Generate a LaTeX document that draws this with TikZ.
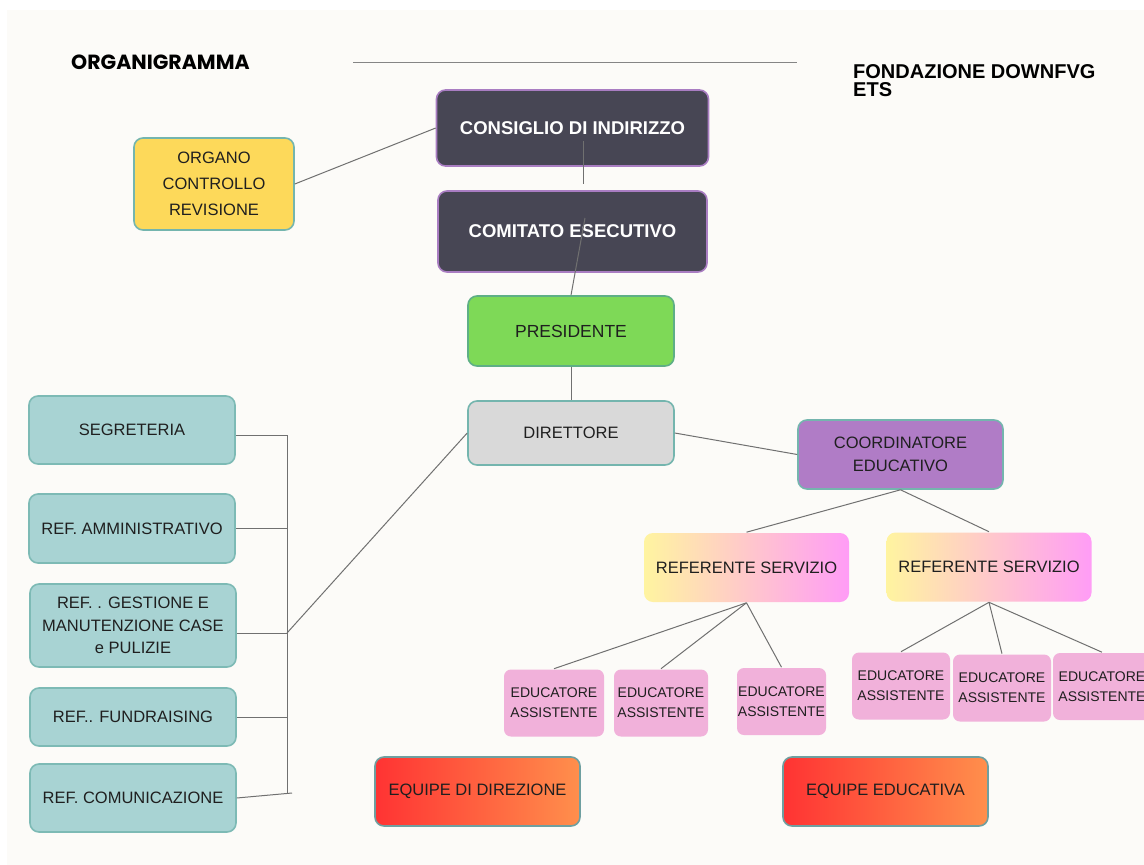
\documentclass[tikz,border=0pt]{standalone}
\usepackage{fontspec}
\setmainfont{Liberation Sans}
\newfontfamily\titlefont{Poppins}

\definecolor{paper}{HTML}{FCFBF8}
\definecolor{boardfill}{HTML}{474654}
\definecolor{boardline}{HTML}{A97DC2}
\definecolor{tealline}{HTML}{74B5AE}
\definecolor{organofill}{HTML}{FDD95A}
\definecolor{presfill}{HTML}{7ED957}
\definecolor{presline}{HTML}{5EAF86}
\definecolor{dirfill}{HTML}{D9D9D9}
\definecolor{coordfill}{HTML}{B07CC6}
\definecolor{refyellow}{HTML}{FFF4A0}
\definecolor{refpink}{HTML}{FFC3D6}
\definecolor{refmagenta}{HTML}{FF9CF6}
\definecolor{edufill}{HTML}{F1B1DA}
\definecolor{equipered}{HTML}{FF3333}
\definecolor{equipeorange}{HTML}{FF8F4C}
\definecolor{equipeline}{HTML}{6E9FA0}
\definecolor{stafffill}{HTML}{A8D3D3}
\definecolor{staffline}{HTML}{7DBAB5}
\definecolor{linkgray}{HTML}{707070}
\definecolor{labeltext}{HTML}{1F1F1F}

\begin{document}
\begin{tikzpicture}[x=1pt, y=-1pt,
chart node/.style={draw, rounded corners=9pt, line width=1.6pt, align=center, inner sep=0pt, text=labeltext, font=\fontsize{16.5}{23}\selectfont},
board node/.style={chart node, fill=boardfill, draw=boardline, text=white, font=\bfseries\fontsize{18.5}{22}\selectfont, minimum width=272pt},
staff node/.style={chart node, fill=stafffill, draw=staffline, minimum width=206pt},
ref node/.style={chart node, draw=none, left color=refyellow, middle color=refpink, right color=refmagenta, minimum width=205pt, minimum height=69pt},
edu node/.style={chart node, draw=none, fill=edufill, rounded corners=7pt, minimum height=67pt, font=\fontsize{14}{20}\selectfont},
equipe node/.style={chart node, draw=equipeline, left color=equipered, right color=equipeorange, minimum width=205pt, minimum height=69pt},
link/.style={draw=linkgray, line width=1pt}]

% page
\fill[white] (0,0) rectangle (1144,865);
\fill[paper] (7,10) rectangle (1144,865);
\useasboundingbox (0,0) rectangle (1144,865);

% header
\node[anchor=west, inner sep=0pt, font=\titlefont\bfseries\fontsize{20.5}{24}\selectfont] (title) at (71,62) {ORGANIGRAMMA};
\coordinate (ruleL) at (353,62);
\coordinate (ruleR) at (797,62);
\node[anchor=north west, inner sep=0pt, align=left, font=\bfseries\fontsize{20}{18.5}\selectfont] (fondazione) at (853,64) {FONDAZIONE DOWNFVG\\ETS};

% board
\node[board node, minimum height=76pt] (consiglio) at (572.5,128) {CONSIGLIO DI INDIRIZZO};
\node[board node, minimum width=269pt, minimum height=81pt] (comitato) at (572.5,231.5) {COMITATO ESECUTIVO};
\node[chart node, fill=organofill, draw=tealline, minimum width=160pt, minimum height=92pt, font=\fontsize{16.5}{26}\selectfont] (organo) at (214,184) {ORGANO\\CONTROLLO\\REVISIONE};

% direction
\node[chart node, fill=presfill, draw=presline, minimum width=206pt, minimum height=70pt, font=\fontsize{17.5}{23}\selectfont] (presidente) at (571,331) {PRESIDENTE};
\node[chart node, fill=dirfill, draw=tealline, minimum width=206pt, minimum height=64pt] (direttore) at (571,433) {DIRETTORE};
\node[chart node, fill=coordfill, draw=tealline, minimum width=205pt, minimum height=69pt] (coordinatore) at (900.5,454.5) {COORDINATORE\\EDUCATIVO};

% services
\node[ref node] (servizioA) at (746.5,567.5) {REFERENTE SERVIZIO};
\node[ref node] (servizioB) at (989,567) {REFERENTE SERVIZIO};

% educators A
\node[edu node, minimum width=100pt] (eduA1) at (554,703) {EDUCATORE\\ASSISTENTE};
\node[edu node, minimum width=94pt] (eduA2) at (661,703) {EDUCATORE\\ASSISTENTE};
\node[edu node, minimum width=89pt] (eduA3) at (781.5,701.5) {EDUCATORE\\ASSISTENTE};

% educators B
\node[edu node, minimum width=98pt] (eduB1) at (901,686) {EDUCATORE\\ASSISTENTE};
\node[edu node, minimum width=98pt] (eduB2) at (1002,688) {EDUCATORE\\ASSISTENTE};
\node[edu node, minimum width=98pt] (eduB3) at (1102,686.5) {EDUCATORE\\ASSISTENTE};

% equipes
\node[equipe node] (equipeDir) at (477.5,791.5) {EQUIPE DI DIREZIONE};
\node[equipe node] (equipeEdu) at (885.5,791.5) {EQUIPE EDUCATIVA};

% staff
\node[staff node, minimum height=68pt] (segreteria) at (132,430) {SEGRETERIA};
\node[staff node, minimum height=69pt] (amministrativo) at (132,528.5) {REF. AMMINISTRATIVO};
\node[staff node, minimum height=83pt, font=\fontsize{16.5}{22.5}\selectfont] (gestione) at (133,625.5) {REF. . GESTIONE E\\MANUTENZIONE CASE\\e PULIZIE};
\node[staff node, minimum height=58pt] (fundraising) at (133,717) {REF.. FUNDRAISING};
\node[staff node, minimum height=68pt] (comunicazione) at (133,798) {REF. COMUNICAZIONE};

% bus
\coordinate (busTop) at (287,435);
\coordinate (busMid) at (287,633);
\coordinate (busBot) at (287,793);

% links
\draw[link, draw=linkgray!85] (ruleL) -- (ruleR);
\draw[link] (organo.east) -- (consiglio.west);
\draw[link] ([xshift=10.5pt,yshift=-13pt]consiglio.center) -- ([xshift=10.5pt,yshift=6pt]comitato.north);
\draw[link] ([xshift=12.5pt,yshift=13.5pt]comitato.center) -- (presidente.north);
\draw[link] (presidente.south) -- (direttore.north);
\draw[link] (direttore.west) -- (busMid);
\draw[link] (direttore.east) -- (coordinatore.west);
\draw[link] (coordinatore.south) -- (servizioA.north);
\draw[link] (coordinatore.south) -- (servizioB.north);
\foreach \e in {A1,A2,A3} \draw[link] (servizioA.south) -- (edu\e.north);
\foreach \e in {B1,B2,B3} \draw[link] (servizioB.south) -- (edu\e.north);

% staff bus
\draw[link] (busTop) -- (busBot);
\draw[link] (segreteria.east |- busTop) -- (busTop);
\draw[link] (amministrativo.east) -- (amministrativo.east -| busTop);
\draw[link] (gestione.east |- busMid) -- (busMid);
\draw[link] (fundraising.east) -- (fundraising.east -| busTop);
\draw[link] (comunicazione.east) -- ([xshift=5pt]busBot);

\end{tikzpicture}
\end{document}
